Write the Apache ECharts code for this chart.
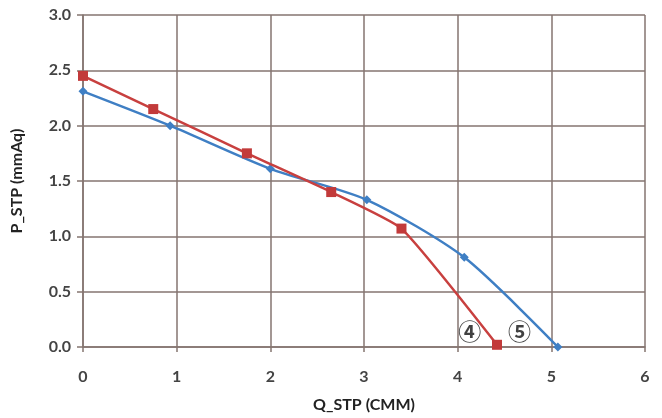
<!DOCTYPE html>
<html><head><meta charset="utf-8">
<script src="https://cdn.jsdelivr.net/npm/echarts@6/dist/echarts.min.js"></script>
<style>html,body{margin:0;padding:0;background:#fff}#c{width:662px;height:418px}</style>
</head><body><div id="c"></div>
<script>
const xTicks = [0, 1, 2, 3, 4, 5, 6];
const yTicks = [0, 0.5, 1, 1.5, 2, 2.5, 3];
const series4Q = [0, 0.75, 1.75, 2.65, 3.4, 4.42];
const series4P = [2.45, 2.15, 1.75, 1.40, 1.07, 0.02];
const series5Q = [0, 0.93, 2.0, 3.03, 4.07, 5.07];
const series5P = [2.31, 2.0, 1.61, 1.33, 0.81, 0.0];
const curveLabels = ['④', '⑤'];
const labelQ = [4.13, 4.66];
const labelP = [0.14, 0.14];

const grid = '#857570';
const font = 'Lato, "Open Sans", sans-serif';
const chart = echarts.init(document.getElementById('c'));
chart.setOption({
  animation: false,
  backgroundColor: '#fff',
  grid: {left: 83, right: 17, top: 15, bottom: 69},
  xAxis: {
    type: 'value', min: 0, max: 6, interval: 1,
    name: 'Q_STP (CMM)', nameLocation: 'middle', nameGap: 50,
    nameTextStyle: {fontFamily: font, fontWeight: 'bold', fontSize: 16, color: '#222'},
    axisLine: {show: true, lineStyle: {color: grid, width: 1.5}},
    axisTick: {show: true, length: 5, lineStyle: {color: grid, width: 1.5}},
    axisLabel: {fontFamily: font, fontSize: 16, fontWeight: 'bold', color: '#444', margin: 22,
      formatter: v => xTicks.includes(v) ? String(v) : ''},
    splitLine: {show: true, lineStyle: {color: grid, width: 1.5}}
  },
  yAxis: {
    type: 'value', min: 0, max: 3, interval: 0.5,
    name: 'P_STP (mmAq)', nameLocation: 'middle', nameGap: 58,
    nameTextStyle: {fontFamily: font, fontWeight: 'bold', fontSize: 16, color: '#222'},
    axisLine: {show: true, lineStyle: {color: grid, width: 1.5}},
    axisTick: {show: true, length: 6, lineStyle: {color: grid, width: 1.5}},
    axisLabel: {fontFamily: font, fontSize: 16, fontWeight: 'bold', color: '#444', margin: 12,
      formatter: v => yTicks.includes(v) ? v.toFixed(1) : ''},
    splitLine: {show: true, lineStyle: {color: grid, width: 1.5}}
  },
  series: [
    {
      type: 'line', smooth: 0.25,
      data: series5Q.map((q, i) => [q, series5P[i]]),
      symbol: 'diamond', symbolSize: 9,
      lineStyle: {color: '#3f7fc4', width: 2.5},
      itemStyle: {color: '#3f7fc4'}, z: 3
    },
    {
      type: 'line', smooth: 0.15,
      data: series4Q.map((q, i) => [q, series4P[i]]),
      symbol: 'rect', symbolSize: 10,
      lineStyle: {color: '#c8403f', width: 2.5},
      itemStyle: {color: '#c23a3a'}, z: 4
    },
    {
      type: 'scatter', symbolSize: 0,
      data: curveLabels.map((t, i) => ({value: [labelQ[i], labelP[i]], name: t})),
      label: {show: true, position: 'inside', formatter: p => p.name,
        fontFamily: '"Noto Sans CJK JP", sans-serif', fontSize: 23, fontWeight: 'bold', color: '#111'},
      z: 5
    }
  ]
});
</script></body></html>
